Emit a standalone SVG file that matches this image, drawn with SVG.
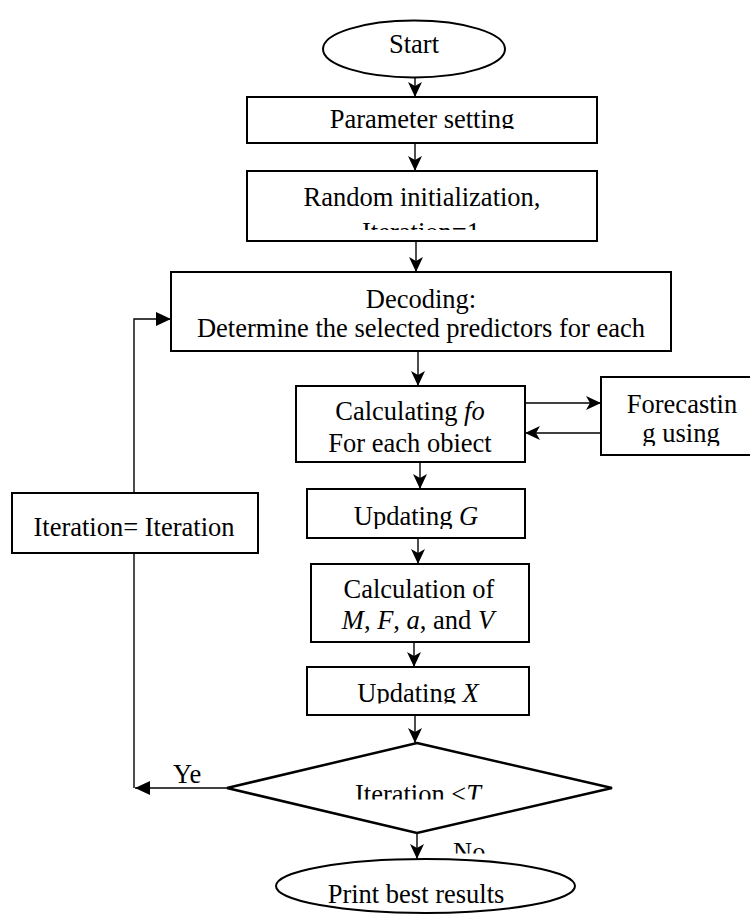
<svg xmlns="http://www.w3.org/2000/svg" width="750" height="915" viewBox="0 0 750 915">
<style>
.box{fill:#fff;stroke:#000;stroke-width:2}
.t{font-family:"Liberation Serif","Times New Roman",serif;font-size:26.5px;fill:#000;text-anchor:middle}
.ts{font-family:"Liberation Serif","Times New Roman",serif;font-size:26.5px;fill:#000}
.i{font-style:italic}
.c{fill:none;stroke:#000;stroke-width:1.4}
</style>
<defs>
<marker id="ah" markerUnits="userSpaceOnUse" markerWidth="16" markerHeight="14" refX="15" refY="7" orient="auto">
<path d="M0,0 L15,7 L0,14 L4,7 z" fill="#000"/>
</marker>
<marker id="tri" markerUnits="userSpaceOnUse" markerWidth="16" markerHeight="14" refX="15" refY="7" orient="auto">
<path d="M0,0 L15,7 L0,14 z" fill="#000"/>
</marker>
<clipPath id="cp1"><rect x="0" y="0" width="750" height="129"/></clipPath>
<clipPath id="cp2"><rect x="0" y="0" width="750" height="230"/></clipPath>
<clipPath id="cp3"><rect x="0" y="0" width="750" height="453.5"/></clipPath>
<clipPath id="cp4"><rect x="0" y="0" width="750" height="446"/></clipPath>
<clipPath id="cp5"><rect x="0" y="0" width="750" height="529"/></clipPath>
<clipPath id="cp6"><rect x="0" y="0" width="750" height="703.5"/></clipPath>
<clipPath id="cp7"><rect x="0" y="0" width="750" height="799.5"/></clipPath>
<clipPath id="cp8"><rect x="0" y="0" width="750" height="853.5"/></clipPath>
<clipPath id="cp9"><rect x="0" y="0" width="750" height="906"/></clipPath>
</defs>
<rect width="750" height="915" fill="#fff"/>

<g id="connectors">
<line class="c" x1="415" y1="78" x2="415" y2="97" marker-end="url(#ah)"/>
<line class="c" x1="415" y1="143" x2="415" y2="171" marker-end="url(#ah)"/>
<line class="c" x1="416" y1="241" x2="416" y2="272" marker-end="url(#ah)"/>
<line class="c" x1="418" y1="351" x2="418" y2="386" marker-end="url(#ah)"/>
<line class="c" x1="525" y1="403" x2="601" y2="403" marker-end="url(#ah)"/>
<line class="c" x1="601" y1="433" x2="525" y2="433" marker-end="url(#ah)"/>
<line class="c" x1="420" y1="462" x2="420" y2="489" marker-end="url(#ah)"/>
<line class="c" x1="418" y1="538" x2="418" y2="564" marker-end="url(#ah)"/>
<line class="c" x1="414" y1="642" x2="414" y2="667" marker-end="url(#ah)"/>
<line class="c" x1="415" y1="715" x2="415" y2="743" marker-end="url(#ah)"/>
<line class="c" x1="417" y1="833" x2="417" y2="859" marker-end="url(#ah)"/>
<line class="c" x1="227" y1="788" x2="135" y2="788" marker-end="url(#tri)"/>
<line class="c" x1="134" y1="788" x2="134" y2="553"/>
<polyline class="c" points="134,493 134,319 171,319" marker-end="url(#tri)"/>
<text class="ts" x="173" y="783">Ye</text>
<text class="ts" x="453" y="861" clip-path="url(#cp8)">No</text>
</g>

<g id="start">
<ellipse class="box" cx="414" cy="49" rx="91" ry="28.5"/>
<text class="t" x="414" y="53">Start</text>
</g>

<g id="param">
<rect class="box" x="247" y="97" width="350" height="46"/>
<text class="t" x="422" y="128" clip-path="url(#cp1)">Parameter setting</text>
</g>

<g id="random">
<rect class="box" x="247" y="171" width="350" height="70"/>
<text class="t" x="422" y="206">Random initialization,</text>
<text class="t" x="421" y="240.5" clip-path="url(#cp2)">Iteration=1</text>
</g>

<g id="decoding">
<rect class="box" x="171" y="272" width="500" height="79"/>
<text class="t" x="421" y="308">Decoding:</text>
<text class="t" x="421" y="337">Determine the selected predictors for each</text>
</g>

<g id="calculating">
<rect class="box" x="296" y="386" width="229" height="76"/>
<text class="t" x="410" y="420">Calculating <tspan class="i">fo</tspan></text>
<text class="t" x="410" y="452" clip-path="url(#cp3)">For each obiect</text>
</g>

<g id="forecasting">
<rect class="box" x="601" y="377" width="170" height="78"/>
<text class="t" x="682" y="413">Forecastin</text>
<text class="t" x="681" y="442" clip-path="url(#cp4)">g using</text>
</g>

<g id="updateG">
<rect class="box" x="307" y="489" width="218" height="49"/>
<text class="t" x="416" y="525" clip-path="url(#cp5)">Updating <tspan class="i">G</tspan></text>
</g>

<g id="calcM">
<rect class="box" x="311" y="564" width="218" height="78"/>
<text class="t" x="419" y="598">Calculation of</text>
<text class="t" x="418" y="629"><tspan class="i">M</tspan>, <tspan class="i">F</tspan>, <tspan class="i">a</tspan>, and <tspan class="i">V</tspan></text>
</g>

<g id="updateX">
<rect class="box" x="307" y="667" width="222" height="48"/>
<text class="t" x="418" y="702" clip-path="url(#cp6)">Updating <tspan class="i">X</tspan></text>
</g>

<g id="iterInc">
<rect class="box" x="12" y="493" width="246" height="60"/>
<text class="t" x="134" y="536">Iteration= Iteration</text>
</g>

<g id="decision">
<polygon points="417,743 612,788 417,833 227,788" fill="#fff" stroke="#000" stroke-width="2.5"/>
<text class="t" x="418" y="803" clip-path="url(#cp7)">Iteration &lt;<tspan class="i">T</tspan></text>
</g>

<g id="print">
<ellipse class="box" cx="425.5" cy="886" rx="149.5" ry="27"/>
<text class="t" x="416" y="903" clip-path="url(#cp9)">Print best results</text>
</g>
</svg>
